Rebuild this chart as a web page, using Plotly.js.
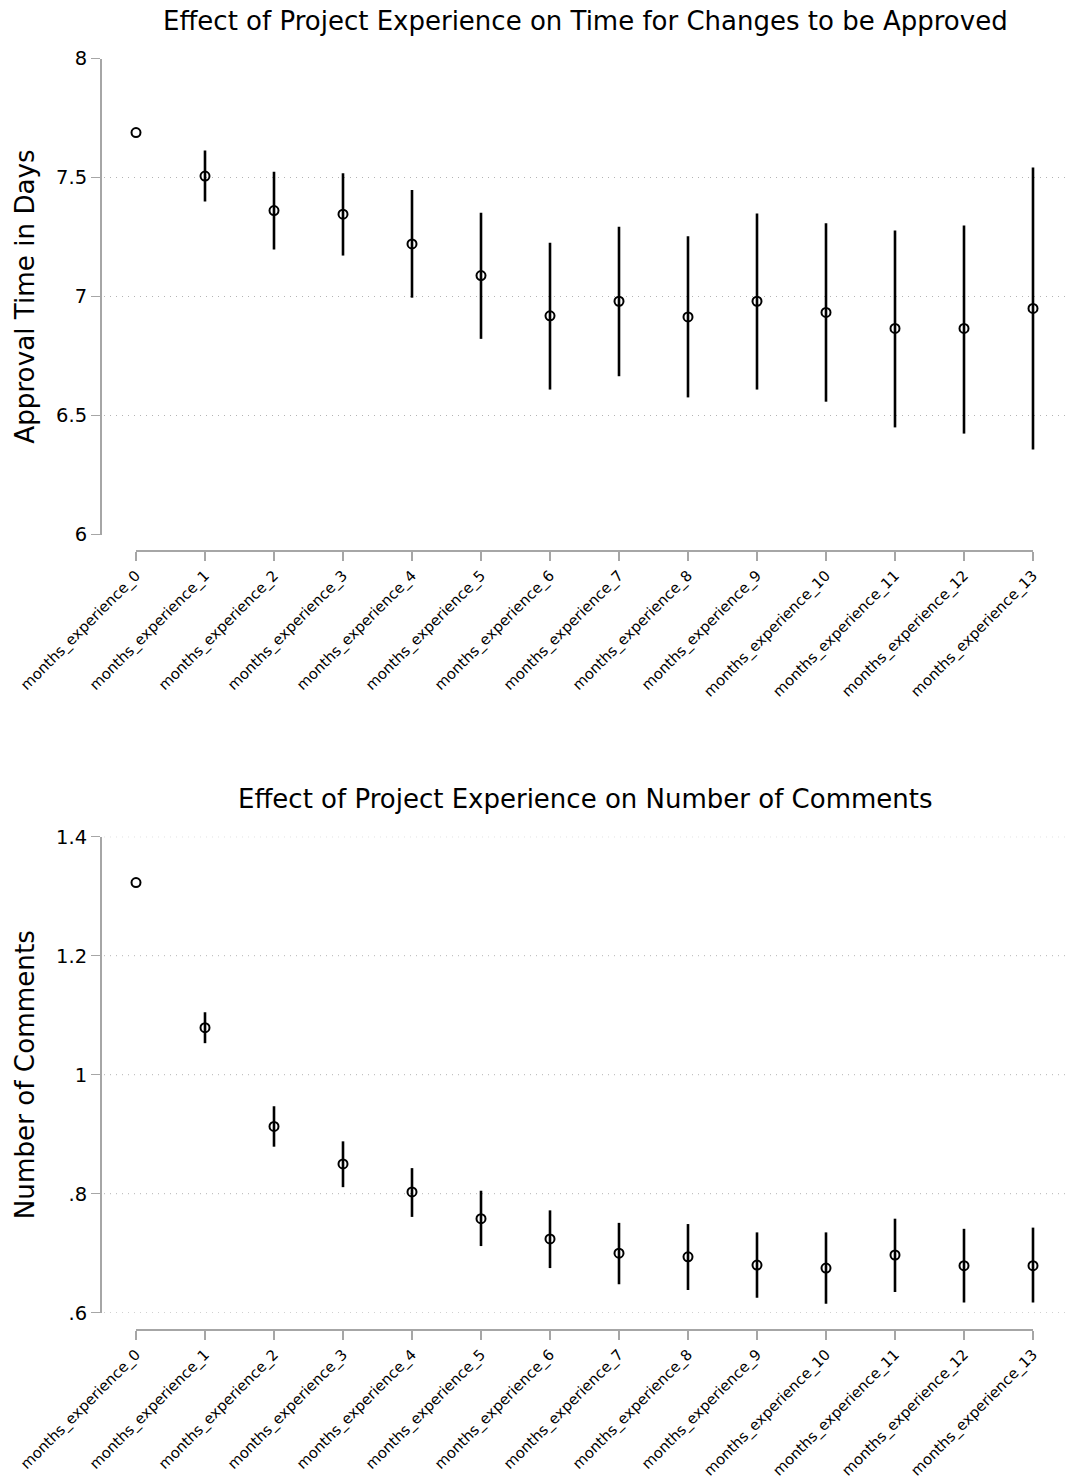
<!DOCTYPE html>
<html>
<head>
<meta charset="utf-8">
<script src="https://cdn.plot.ly/plotly-3.0.1.min.js"></script>
<style>
html,body{margin:0;padding:0;background:#fff;}
#chart{width:1070px;height:1478px;}
</style>
</head>
<body>
<div id="chart"></div>
<script>
const categories = [
  'months_experience_0','months_experience_1','months_experience_2','months_experience_3',
  'months_experience_4','months_experience_5','months_experience_6','months_experience_7',
  'months_experience_8','months_experience_9','months_experience_10','months_experience_11',
  'months_experience_12','months_experience_13'
];

// Top panel: approval time in days (point estimate and 95% CI)
const approvalEst = [7.689, 7.506, 7.361, 7.346, 7.221, 7.088, 6.919, 6.980, 6.914, 6.980, 6.933, 6.866, 6.866, 6.950];
const approvalHi  = [null,  7.613, 7.524, 7.518, 7.447, 7.352, 7.226, 7.293, 7.253, 7.349, 7.308, 7.277, 7.298, 7.542];
const approvalLo  = [null,  7.399, 7.197, 7.172, 6.995, 6.822, 6.609, 6.665, 6.576, 6.609, 6.558, 6.450, 6.424, 6.357];

// Bottom panel: number of comments
const commentsEst = [1.323, 1.079, 0.913, 0.850, 0.803, 0.758, 0.724, 0.700, 0.694, 0.680, 0.675, 0.697, 0.679, 0.679];
const commentsHi  = [null,  1.105, 0.947, 0.888, 0.843, 0.805, 0.772, 0.751, 0.749, 0.735, 0.735, 0.758, 0.741, 0.743];
const commentsLo  = [null,  1.053, 0.879, 0.811, 0.761, 0.712, 0.675, 0.648, 0.638, 0.625, 0.615, 0.635, 0.617, 0.617];

const topTicks = [6, 6.5, 7, 7.5, 8];
const topTickText = ['6', '6.5', '7', '7.5', '8'];
const topGridVals = [6.5, 7, 7.5];
const botTicks = [0.6, 0.8, 1.0, 1.2, 1.4];
const botTickText = ['.6', '.8', '1', '1.2', '1.4'];
const botGridVals = [0.6, 0.8, 1.0, 1.2, 1.4];

const W = 1070, H = 1478;
const px = v => v / W;
const py = v => 1 - v / H;

function errs(est, hi, lo) {
  return {
    plus: est.map((e, i) => hi[i] == null ? NaN : hi[i] - e),
    minus: est.map((e, i) => lo[i] == null ? NaN : e - lo[i])
  };
}
const eTop = errs(approvalEst, approvalHi, approvalLo);
const eBot = errs(commentsEst, commentsHi, commentsLo);

const markerStyle = {symbol: 'circle-open', size: 9, color: '#000', line: {width: 2, color: '#000'}};

const traces = [
  {
    type: 'scatter', mode: 'markers', x: categories, y: approvalEst,
    xaxis: 'x', yaxis: 'y', marker: markerStyle, showlegend: false, hoverinfo: 'x+y',
    error_y: {type: 'data', symmetric: false, array: eTop.plus, arrayminus: eTop.minus,
              color: '#000', thickness: 2.6, width: 0}
  },
  {
    type: 'scatter', mode: 'markers', x: categories, y: commentsEst,
    xaxis: 'x2', yaxis: 'y2', marker: markerStyle, showlegend: false, hoverinfo: 'x+y',
    error_y: {type: 'data', symmetric: false, array: eBot.plus, arrayminus: eBot.minus,
              color: '#000', thickness: 2.6, width: 0}
  }
];

const axisGray = '#a6a6a6';
const gridGray = '#b4b4b4';
const gridDash = '1px,5px';
const xLeft = 102;
const catStart = 136, catStep = 69;
const xRange = [(xLeft - catStart) / catStep, (W - catStart) / catStep];

function xAxis(pos) {
  return {
    domain: [px(xLeft), 1], range: xRange, type: 'category',
    anchor: 'free', position: pos,
    showline: false, showgrid: false, zeroline: false,
    ticks: 'outside', ticklen: 9, tickwidth: 1.5, tickcolor: axisGray,
    tickangle: -45, tickfont: {family: 'DejaVu Sans', size: 14.8, color: '#000'},
    fixedrange: true
  };
}
function yAxis(domain, range, tv, tt, title, anchor) {
  return {
    domain: domain, range: range, anchor: anchor,
    tickmode: 'array', tickvals: tv, ticktext: tt,
    showline: true, linecolor: axisGray, linewidth: 2,
    ticks: 'outside', ticklen: 9, tickwidth: 1.5, tickcolor: axisGray,
    tickfont: {family: 'DejaVu Sans', size: 19.5, color: '#000'},
    showgrid: false, zeroline: false,
    title: {text: title, font: {family: 'DejaVu Sans', size: 26.2, color: '#000'}, standoff: 14},
    fixedrange: true
  };
}

const topX = py(551), botX = py(1330);
const topDomain = [py(534.5), py(58.5)];
const botDomain = [py(1312.7), py(836.7)];

function gridShapes(vals, yref) {
  return vals.map(v => ({
    type: 'line', xref: 'paper', yref: yref, x0: px(xLeft + 2), x1: 1, y0: v, y1: v,
    line: {color: gridGray, width: 1, dash: gridDash}, layer: 'below'
  }));
}
function axisLineShape(xref, pos) {
  return {type: 'line', xref: xref, yref: 'paper', x0: categories[0], x1: categories[categories.length - 1],
          y0: pos, y1: pos, line: {color: axisGray, width: 2}};
}

const layout = {
  width: W, height: H,
  margin: {l: 0, r: 0, t: 0, b: 0},
  paper_bgcolor: '#fff', plot_bgcolor: '#fff',
  font: {family: 'DejaVu Sans', color: '#000'},
  showlegend: false,
  xaxis: xAxis(topX),
  xaxis2: xAxis(botX),
  yaxis: yAxis(topDomain, [6, 8], topTicks, topTickText, 'Approval Time in Days', 'x'),
  yaxis2: yAxis(botDomain, [0.6, 1.4], botTicks, botTickText, 'Number of Comments', 'x2'),
  annotations: [
    {text: 'Effect of Project Experience on Time for Changes to be Approved', xref: 'paper', yref: 'paper',
     x: px(585), y: py(21), xanchor: 'center', yanchor: 'middle', showarrow: false,
     font: {family: 'DejaVu Sans', size: 26, color: '#000'}},
    {text: 'Effect of Project Experience on Number of Comments', xref: 'paper', yref: 'paper',
     x: px(585), y: py(799), xanchor: 'center', yanchor: 'middle', showarrow: false,
     font: {family: 'DejaVu Sans', size: 26, color: '#000'}}
  ],
  shapes: [].concat(
    gridShapes(topGridVals, 'y'),
    gridShapes(botGridVals, 'y2'),
    [axisLineShape('x', topX), axisLineShape('x2', botX)]
  )
};

Plotly.newPlot('chart', traces, layout, {displayModeBar: false, staticPlot: true});
</script>
</body>
</html>
